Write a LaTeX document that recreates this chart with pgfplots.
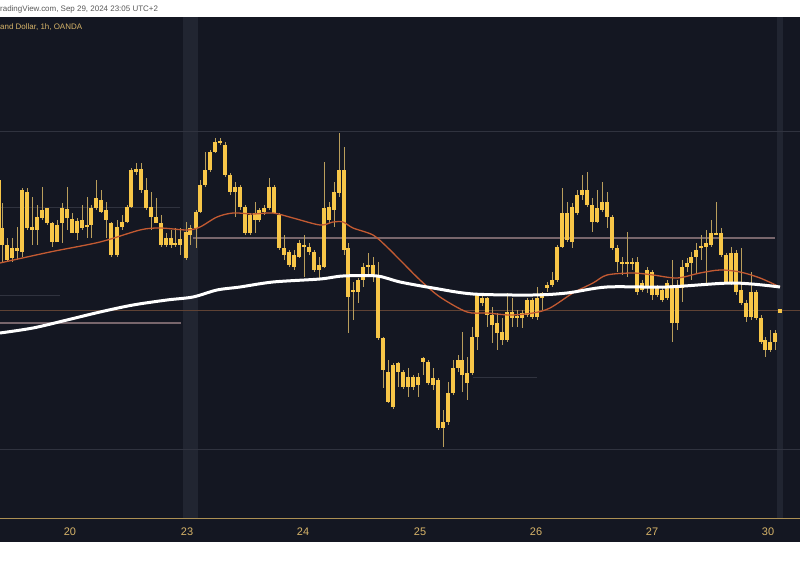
\documentclass[border=0pt]{standalone}
\usepackage{pgfplots}
\pgfplotsset{compat=1.18}
\usepackage{pgfplotstable}
\usepackage{fontspec}
\setmainfont{Liberation Sans}

\definecolor{bg}{RGB}{20,23,34}
\definecolor{band}{RGB}{33,37,49}
\definecolor{candle}{RGB}{247,198,72}
\definecolor{wick}{RGB}{185,158,92}
\definecolor{ema}{RGB}{195,90,50}
\definecolor{gold}{RGB}{215,180,105}
\definecolor{lvl}{RGB}{120,102,108}
\definecolor{lvlo}{RGB}{95,66,52}
\definecolor{faint}{RGB}{48,51,63}

% hourly candles, x and y read in picture pixels (y grows downwards)
% bt/bb = body top/bottom, wt/wb = wick top/bottom
\pgfplotstableread{
x bt bb wt wb
-1 180 235 175 250
2 228 245 203 262
7 245 260 238 262
12 248 258 238 262
17 248 251 227 260
22 190 252 188 257
27 192 228 188 230
32 227 230 197 245
37 217 230 205 245
42 210 218 187 220
47 208 223 208 225
52 223 242 222 247
57 225 242 220 242
62 208 223 203 243
67 209 218 187 230
72 219 233 213 233
77 221 233 218 240
82 220 228 205 230
87 225 227 197 238
91 208 225 205 238
96 198 208 180 210
101 200 212 190 213
106 210 220 202 238
111 223 255 222 257
117 227 255 220 257
122 222 227 215 230
127 207 222 205 223
131 170 207 168 208
136 169 172 163 175
141 169 190 163 193
146 190 208 178 210
151 207 217 192 230
156 217 223 198 223
161 223 245 215 247
166 238 245 233 247
171 238 245 230 248
175 243 245 228 247
180 239 245 228 255
186 232 258 222 260
190 228 235 225 245
196 212 228 210 248
200 185 212 180 213
205 170 185 152 187
210 152 170 150 172
215 142 152 138 153
220 141 143 138 145
225 145 175 142 177
230 175 192 173 195
235 187 192 182 217
240 187 207 185 210
245 207 233 205 235
250 215 233 213 235
255 213 220 202 233
259 210 220 208 222
264 208 212 205 215
269 187 208 178 210
274 187 213 185 213
279 215 248 213 250
284 248 255 235 260
289 252 265 250 267
294 255 267 250 270
299 243 257 240 258
304 245 247 235 277
309 247 252 243 255
314 252 270 250 272
319 265 270 257 278
324 208 267 162 268
329 207 220 202 223
334 192 210 182 227
339 170 193 133 197
344 170 250 147 255
348 248 297 243 333
353 290 292 282 320
358 280 292 278 303
363 267 280 263 287
368 265 267 253 277
373 265 275 257 282
378 275 338 262 340
383 338 370 337 388
388 372 402 360 403
393 365 407 363 409
398 363 372 362 387
403 372 387 370 389
408 377 387 368 397
413 377 387 375 390
418 377 385 373 397
423 358 362 357 375
428 362 383 360 385
433 378 385 368 390
438 380 428 378 430
443 422 428 410 447
448 393 422 382 425
453 368 393 360 395
458 360 368 355 372
462 360 375 332 392
467 373 383 357 400
472 337 373 327 375
477 295 337 293 350
482 298 303 296 306
487 298 315 297 327
492 315 325 307 343
497 323 333 313 350
502 332 340 318 345
507 312 340 293 342
512 312 318 298 327
517 317 318 310 327
522 313 318 310 328
527 300 315 298 317
532 300 317 298 319
537 298 317 287 320
542 293 298 292 310
547 285 288 282 292
552 280 285 272 287
557 247 280 245 282
562 213 247 188 248
567 213 240 202 242
572 207 242 203 248
577 195 213 190 215
582 190 195 175 200
587 190 205 172 207
592 205 222 198 232
597 208 222 190 223
602 202 210 182 212
607 202 217 192 228
612 217 248 215 250
617 248 262 245 272
622 262 264 257 275
627 262 264 232 277
632 262 264 258 270
637 262 292 257 295
642 283 290 280 292
647 270 287 267 293
652 272 295 270 300
657 288 295 285 297
662 290 300 287 302
667 283 298 280 300
672 285 323 260 342
677 288 323 280 330
682 267 288 260 302
687 263 267 258 272
691 257 263 252 280
696 250 257 243 273
701 247 248 235 260
706 243 247 230 283
711 233 245 220 247
716 233 235 202 235
721 233 255 228 257
726 255 282 253 284
731 253 282 247 285
736 253 292 250 295
741 290 303 248 305
746 303 317 300 322
751 292 317 272 320
756 292 318 290 320
761 318 342 315 344
765 340 350 337 357
770 342 350 330 352
775 333 342 330 350
780 309 313 309 313
}\candles

\begin{document}
\begin{tikzpicture}[x=1bp,y=1bp]
\path[use as bounding box] (0,-47) rectangle (800,519);
\fill[white] (0,-47) rectangle (800,519);
\fill[bg] (0,-23) rectangle (800,502);

\node[anchor=west, inner sep=0, font=\fontsize{8}{9}\selectfont, text=black!65] at (0,509.5) {radingView.com, Sep 29, 2024 23:05 UTC+2};
\node[anchor=west, inner sep=0, font=\fontsize{8}{9}\selectfont, text=gold] at (0,492) {and Dollar, 1h, OANDA};

\begin{axis}[
  at={(0,0)}, anchor=south west,
  scale only axis, width=800bp, height=502bp,
  xmin=0, xmax=800, ymin=17, ymax=519,
  y dir=reverse,
  axis line style={draw=none},
  ytick=\empty,
  xtick={70,187,303,420,536,652,768},
  xticklabels={20,23,24,25,26,27,30},
  major tick length=0pt,
  xticklabel style={anchor=base, yshift=-16bp, text=gold,
    font=\fontsize{11}{12}\selectfont},
  /pgf/number format/assume math mode=true,
]
% weekend / session bands
\fill[band] (axis cs:183,17) rectangle (axis cs:198,519);
\fill[band] (axis cs:777,17) rectangle (axis cs:783,519);

% horizontal levels
\addplot[faint, line width=0.8bp] coordinates {(0,131) (800,131)};
\addplot[faint, line width=0.8bp] coordinates {(0,207) (180,207)};
\addplot[faint, line width=0.8bp] coordinates {(0,295) (60,295)};
\addplot[faint, line width=0.8bp] coordinates {(473,377) (537,377)};
\addplot[faint, line width=0.8bp] coordinates {(0,449) (800,449)};
\addplot[lvlo, line width=1bp] coordinates {(0,311) (800,311)};
\addplot[lvl, line width=1.2bp] coordinates {(193,238) (775,238)};
\addplot[lvl, line width=1.2bp] coordinates {(0,323) (181,323)};

% wicks
\addplot[draw=none, mark=none, forget plot,
  error bars/.cd, y dir=both, y explicit, error mark=none,
  error bar style={draw=wick, line width=1bp}]
  table[x=x, y expr={(\thisrow{wt}+\thisrow{wb})/2},
        y error expr={(\thisrow{wb}-\thisrow{wt})/2}] {\candles};
% bodies
\addplot[draw=none, mark=none, forget plot,
  error bars/.cd, y dir=both, y explicit, error mark=none,
  error bar style={draw=candle, line width=3.8bp, line cap=butt}]
  table[x=x, y expr={(\thisrow{bt}+\thisrow{bb})/2},
        y error expr={max((\thisrow{bb}-\thisrow{bt})/2,1)}] {\candles};

% moving averages
\addplot[ema, line width=1.3bp, smooth] coordinates {
(0,263) (50,252) (100,242) (140,230) (160,228) (187,230) (200,227)
(217,217) (233,213) (253,214) (273,213) (293,218) (320,225) (333,222)
(343,222) (353,228) (373,235) (387,247) (400,260) (420,280) (440,297)
(467,312) (487,313) (510,315) (533,313) (550,308) (573,293) (593,283)
(607,275) (633,273) (653,275) (677,278) (700,273) (720,270) (740,272)
(760,278) (780,287)};
\addplot[white, line width=3bp, smooth] coordinates {
(0,333) (33,328) (67,320) (100,312) (133,305) (167,300) (193,297)
(217,290) (240,287) (273,282) (320,279) (343,276) (377,276) (400,282)
(433,288) (473,294) (533,295) (567,293) (607,287) (667,287) (733,283)
(780,287)};
\end{axis}
\draw[gold!80!black, line width=1bp] (0,0) -- (800,0);
\end{tikzpicture}
\end{document}
